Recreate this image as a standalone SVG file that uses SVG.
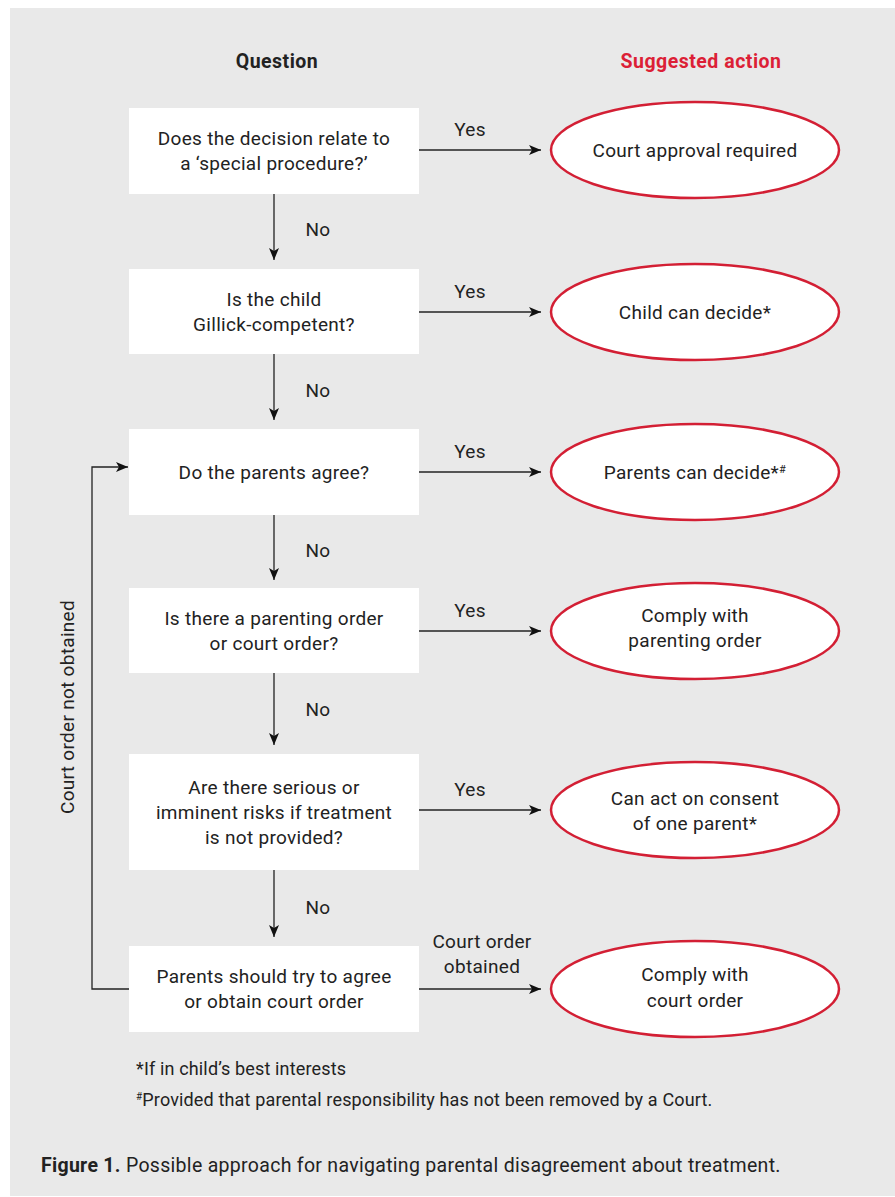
<svg xmlns="http://www.w3.org/2000/svg" width="895" height="1197" viewBox="0 0 895 1197">
<style>
text{font-family:Roboto,"Liberation Sans",sans-serif;fill:#222;font-size:19px;letter-spacing:0.3px}
.c{text-anchor:middle}
.h{font-weight:bold;font-size:19.5px;letter-spacing:0.5px}
.red{fill:#dc1f36}
.box{fill:#fff}
.ell{fill:#fff;stroke:#d31f34;stroke-width:2.5}
.ln{fill:none;stroke:#222;stroke-width:1.3}
.fn{font-size:18px;letter-spacing:0.15px}
.cap{font-size:19.5px}
</style>
<defs>
<marker id="ah" viewBox="0 0 12 10" refX="12" refY="5" markerWidth="12" markerHeight="10" markerUnits="userSpaceOnUse" orient="auto">
<path d="M0,0 L12,5 L0,10 L3,5 z" fill="#111"/>
</marker>
</defs>
<rect x="0" y="0" width="895" height="1197" fill="#fff"/>
<rect x="10" y="8" width="885" height="1188" fill="#e9e9e9"/>
<text class="c h" x="277" y="68">Question</text>
<text class="c h red" x="701" y="68">Suggested action</text>

<g id="connectors">
<line class="ln" x1="274" y1="194" x2="274" y2="260" marker-end="url(#ah)"/>
<line class="ln" x1="274" y1="354" x2="274" y2="420" marker-end="url(#ah)"/>
<line class="ln" x1="274" y1="515" x2="274" y2="580" marker-end="url(#ah)"/>
<line class="ln" x1="274" y1="673" x2="274" y2="745" marker-end="url(#ah)"/>
<line class="ln" x1="274" y1="870" x2="274" y2="937" marker-end="url(#ah)"/>
<line class="ln" x1="419" y1="150" x2="541" y2="150" marker-end="url(#ah)"/>
<line class="ln" x1="419" y1="312" x2="541" y2="312" marker-end="url(#ah)"/>
<line class="ln" x1="419" y1="472" x2="541" y2="472" marker-end="url(#ah)"/>
<line class="ln" x1="419" y1="631" x2="541" y2="631" marker-end="url(#ah)"/>
<line class="ln" x1="419" y1="810" x2="541" y2="810" marker-end="url(#ah)"/>
<line class="ln" x1="419" y1="989" x2="541" y2="989" marker-end="url(#ah)"/>
<polyline class="ln" points="129,989 92,989 92,467 128,467" marker-end="url(#ah)"/>
<text x="318" y="236" class="c">No</text>
<text x="318" y="397" class="c">No</text>
<text x="318" y="557" class="c">No</text>
<text x="318" y="716" class="c">No</text>
<text x="318" y="914" class="c">No</text>
<text x="470" y="136" class="c">Yes</text>
<text x="470" y="298" class="c">Yes</text>
<text x="470" y="458" class="c">Yes</text>
<text x="470" y="617" class="c">Yes</text>
<text x="470" y="796" class="c">Yes</text>
<text x="482" y="948" class="c">Court order</text>
<text x="482" y="973" class="c">obtained</text>
<text class="c" transform="translate(74,707) rotate(-90)">Court order not obtained</text>
</g>

<g id="q1"><rect class="box" x="129" y="108" width="290" height="86"/>
<text class="c" x="274" y="145">Does the decision relate to</text>
<text class="c" x="274" y="170">a ‘special procedure?’</text></g>
<g id="q2"><rect class="box" x="129" y="269" width="290" height="85"/>
<text class="c" x="274" y="306">Is the child</text>
<text class="c" x="274" y="331">Gillick-competent?</text></g>
<g id="q3"><rect class="box" x="129" y="429" width="290" height="86"/>
<text class="c" x="274" y="479">Do the parents agree?</text></g>
<g id="q4"><rect class="box" x="129" y="588" width="290" height="85"/>
<text class="c" x="274" y="625">Is there a parenting order</text>
<text class="c" x="274" y="650">or court order?</text></g>
<g id="q5"><rect class="box" x="129" y="754" width="290" height="116"/>
<text class="c" x="274" y="794">Are there serious or</text>
<text class="c" x="274" y="819">imminent risks if treatment</text>
<text class="c" x="274" y="844">is not provided?</text></g>
<g id="q6"><rect class="box" x="129" y="946" width="290" height="86"/>
<text class="c" x="274" y="983">Parents should try to agree</text>
<text class="c" x="274" y="1008">or obtain court order</text></g>

<g id="a1"><ellipse class="ell" cx="695" cy="150" rx="144" ry="48"/>
<text class="c" x="695" y="157">Court approval required</text></g>
<g id="a2"><ellipse class="ell" cx="695" cy="312" rx="144" ry="48"/>
<text class="c" x="695" y="319">Child can decide*</text></g>
<g id="a3"><ellipse class="ell" cx="695" cy="472" rx="144" ry="48"/>
<text class="c" x="695" y="479">Parents can decide*<tspan font-size="11" dy="-6">#</tspan></text></g>
<g id="a4"><ellipse class="ell" cx="695" cy="631" rx="144" ry="48"/>
<text class="c" x="695" y="622">Comply with</text>
<text class="c" x="695" y="647">parenting order</text></g>
<g id="a5"><ellipse class="ell" cx="695" cy="810" rx="144" ry="48"/>
<text class="c" x="695" y="805">Can act on consent</text>
<text class="c" x="695" y="830">of one parent*</text></g>
<g id="a6"><ellipse class="ell" cx="695" cy="989" rx="144" ry="48"/>
<text class="c" x="695" y="981">Comply with</text>
<text class="c" x="695" y="1007">court order</text></g>

<text class="fn" x="136" y="1075">*If in child’s best interests</text>
<text class="fn" x="136" y="1106"><tspan font-size="10" dy="-6">#</tspan><tspan dy="6">Provided that parental responsibility has not been removed by a Court.</tspan></text>
<text class="cap" x="41" y="1172"><tspan font-weight="bold">Figure 1.</tspan> Possible approach for navigating parental disagreement about treatment.</text>
</svg>
